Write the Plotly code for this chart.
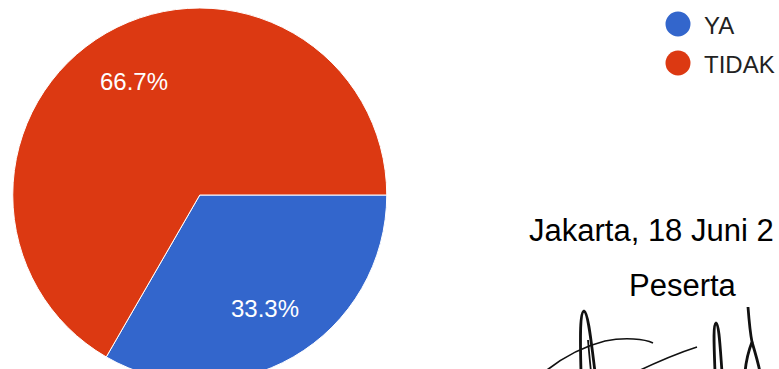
import math
import plotly.graph_objects as go

# ---- data ----
categories = ["YA", "TIDAK"]
values = [1, 2]
colors = ["#3366cc", "#dc3912"]

place_text = "Jakarta, 18 Juni 2"
role_text = "Peserta"

W, H = 779, 390
CX, CY, R = 199.75, 195.0, 187.0

fig = go.Figure()

fig.add_trace(go.Pie(
    labels=categories,
    values=values,
    sort=False,
    direction="clockwise",
    rotation=90,
    marker=dict(colors=colors, line=dict(color="white", width=1)),
    textinfo="none",
    domain=dict(x=[(CX - R) / W, (CX + R) / W], y=[(H - CY - R) / H, (H - CY + R) / H]),
    showlegend=False,
    hoverinfo="label+percent",
))

# pixel-like helper axes for decorations
fig.update_layout(
    xaxis=dict(range=[0, W], visible=False, fixedrange=True),
    yaxis=dict(range=[H, 0], visible=False, fixedrange=True),
)

shapes = []
annotations = []

# percentage labels along each slice's bisector (Google-chart style)
total = sum(values)
cum = 0.0
for v in values:
    mid = (cum + v / 2) / total
    cum += v
    theta = 2 * math.pi * mid  # clockwise from 3 o'clock (screen coords)
    annotations.append(dict(
        text=f"{100 * v / total:.1f}%", xref="x", yref="y",
        x=CX + 0.7 * R * math.cos(theta), y=CY + 0.7 * R * math.sin(theta),
        xanchor="center", yanchor="middle", showarrow=False,
        font=dict(family="Liberation Sans, Arial", size=24, color="white")))

# custom legend with circle markers
for i, (cat, col) in enumerate(zip(categories, colors)):
    cy = 24 + i * 39
    shapes.append(dict(type="circle", xref="x", yref="y",
                       x0=678 - 12.5, x1=678 + 12.5, y0=cy - 12.5, y1=cy + 12.5,
                       fillcolor=col, line=dict(width=0)))
    annotations.append(dict(text=cat, xref="x", yref="y", x=702, y=cy + 1.5,
                            xanchor="left", yanchor="middle", showarrow=False,
                            font=dict(family="Liberation Sans, Arial", size=24, color="#222222")))

annotations.append(dict(text=place_text, xref="x", yref="y", x=527, y=230,
                        xanchor="left", yanchor="middle", showarrow=False,
                        font=dict(family="Liberation Sans, Arial", size=31, color="#000000")))
annotations.append(dict(text=role_text, xref="x", yref="y", x=627, y=285,
                        xanchor="left", yanchor="middle", showarrow=False,
                        font=dict(family="Liberation Sans, Arial", size=31, color="#000000")))

# signature strokes (decorative)
sig_paths = [
    ("M 581 372 C 580 335 580 312 584 311 C 588 312 591 340 595 372", 2.8),
    ("M 588 340 C 589 352 590 362 591 372", 1.8),
    ("M 547 370 C 565 356 585 346 605 341 C 625 337 645 339 653 343", 1.6),
    ("M 636 372 C 655 363 675 354 697 347", 1.6),
    ("M 715 372 C 714 345 713 324 716 323 C 719 324 720 345 722 372", 2.8),
    ("M 748 307 C 749 320 750 332 752 342 C 748 352 746 362 745 372", 2.8),
    ("M 752 342 C 755 352 758 362 760 372", 2.8),
]
for d, w in sig_paths:
    shapes.append(dict(type="path", xref="x", yref="y", path=d,
                       line=dict(color="#111111", width=w)))

fig.update_layout(
    width=W, height=H,
    margin=dict(l=0, r=0, t=0, b=0),
    paper_bgcolor="white", plot_bgcolor="white",
    shapes=shapes, annotations=annotations,
    showlegend=False,
)

fig.write_html("out.html", config={"displayModeBar": False},
               post_script="document.body.style.margin='0';document.body.style.overflow='hidden';document.documentElement.style.overflow='hidden';")
